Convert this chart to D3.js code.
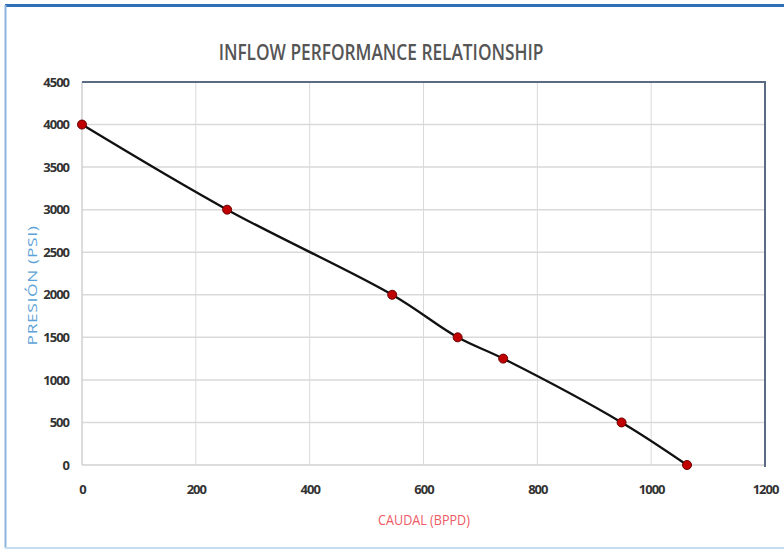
<!DOCTYPE html>
<html>
<head>
<meta charset="utf-8">
<script src="https://cdn.jsdelivr.net/npm/d3@7/dist/d3.min.js"></script>
<style>
  html, body { margin: 0; padding: 0; background: #ffffff; }
  svg { display: block; }
</style>
</head>
<body>
<svg id="chart" width="784" height="554"></svg>
<script>
// Inflow performance relationship: flow rate (BPPD) vs pressure (PSI)
const caudal = [0, 255, 545, 660, 740, 948, 1063];
const presion = [4000, 3000, 2000, 1500, 1250, 500, 0];
const xTicks = [0, 200, 400, 600, 800, 1000, 1200];
const yTicks = [0, 500, 1000, 1500, 2000, 2500, 3000, 3500, 4000, 4500];

const svg = d3.select("#chart");
const W = 784, H = 554;
const plot = { left: 82, right: 765, top: 82, bottom: 465 };
const FONT = "'Open Sans', 'DejaVu Sans', sans-serif";

// Outer chart frame
svg.append("rect").attr("x", 0).attr("y", 0).attr("width", W).attr("height", H).attr("fill", "#ffffff");
svg.append("line").attr("x1", 5).attr("x2", W).attr("y1", 5.5).attr("y2", 5.5)
  .attr("stroke", "#2f6fb8").attr("stroke-width", 3);
svg.append("line").attr("x1", 5.5).attr("x2", 5.5).attr("y1", 5).attr("y2", 548)
  .attr("stroke", "#8db4dc").attr("stroke-width", 2);
svg.append("line").attr("x1", 5).attr("x2", W).attr("y1", 548).attr("y2", 548)
  .attr("stroke", "#c4dcf2").attr("stroke-width", 2);

const x = d3.scaleLinear().domain([0, 1200]).range([plot.left, plot.right]);
const y = d3.scaleLinear().domain([0, 4500]).range([plot.bottom, plot.top]);

// Gridlines
svg.append("g").selectAll("line").data(xTicks.slice(1, -1)).join("line")
  .attr("x1", d => x(d)).attr("x2", d => x(d))
  .attr("y1", plot.top).attr("y2", plot.bottom)
  .attr("stroke", "#d9d9d9").attr("stroke-width", 1);
svg.append("g").selectAll("line").data(yTicks.slice(1, -1)).join("line")
  .attr("x1", plot.left).attr("x2", plot.right)
  .attr("y1", d => y(d)).attr("y2", d => y(d))
  .attr("stroke", "#d9d9d9").attr("stroke-width", 1.5);

// Plot-area border: light on left/bottom, dark on top/right
svg.append("line").attr("x1", plot.left).attr("x2", plot.left).attr("y1", plot.top).attr("y2", plot.bottom)
  .attr("stroke", "#d0d0d0").attr("stroke-width", 1.5);
svg.append("line").attr("x1", plot.left).attr("x2", plot.right).attr("y1", plot.bottom).attr("y2", plot.bottom)
  .attr("stroke", "#d0d0d0").attr("stroke-width", 1.5);
svg.append("line").attr("x1", plot.left).attr("x2", plot.right + 1).attr("y1", plot.top).attr("y2", plot.top)
  .attr("stroke", "#5b6b85").attr("stroke-width", 2);
svg.append("line").attr("x1", plot.right).attr("x2", plot.right).attr("y1", plot.top).attr("y2", plot.bottom + 2)
  .attr("stroke", "#5b6b85").attr("stroke-width", 2);

// Axes (labels only)
const xAxis = svg.append("g").attr("transform", `translate(0,${plot.bottom + 17})`)
  .call(d3.axisBottom(x).tickValues(xTicks).tickSize(0).tickFormat(d3.format("d")));
const yAxis = svg.append("g").attr("transform", `translate(${plot.left - 10},0)`)
  .call(d3.axisLeft(y).tickValues(yTicks).tickSize(0).tickFormat(d3.format("d")));
[xAxis, yAxis].forEach(a => {
  a.select(".domain").remove();
  a.selectAll("text")
    .attr("font-family", FONT)
    .attr("font-size", 13).attr("font-weight", "bold").attr("fill", "#333333")
    .attr("letter-spacing", "-1px");
});

// Horizontally condensed text helper
function condensed(tx, ty, txt, size, targetWidth, fill, weight, spacing) {
  const g = svg.append("g").attr("transform", `translate(${tx},${ty})`);
  const t = g.append("text").attr("text-anchor", "middle")
    .attr("font-family", FONT).attr("font-size", size)
    .attr("font-weight", weight).attr("fill", fill)
    .attr("letter-spacing", spacing)
    .text(txt);
  const w = t.node().getComputedTextLength();
  t.attr("transform", `scale(${targetWidth / w},1)`);
  return g;
}

// Title and axis titles
condensed(381, 60, "INFLOW PERFORMANCE RELATIONSHIP", 22, 325, "#555555", 600, "0px");
condensed(424, 525, "CAUDAL (BPPD)", 14, 92, "#ee5a64", 400, "0px");
const yt = svg.append("g")
  .attr("transform", `translate(37,${(plot.top + plot.bottom) / 2 + 12}) rotate(-90)`);
const ytText = yt.append("text").attr("text-anchor", "middle")
  .attr("font-family", FONT).attr("font-size", 13).attr("fill", "#5aa2d8")
  .attr("letter-spacing", "0.5px")
  .text("PRESIÓN (PSI)");
ytText.attr("transform", `scale(${120 / ytText.node().getComputedTextLength()},1)`);

// IPR curve (smoothed through the measured points)
const pts = caudal.map((c, i) => ({ q: c, p: presion[i] }));
svg.append("path").datum(pts)
  .attr("fill", "none").attr("stroke", "#111111").attr("stroke-width", 2.3)
  .attr("d", d3.line().x(d => x(d.q)).y(d => y(d.p)).curve(d3.curveCatmullRom.alpha(0.5)));

svg.append("g").selectAll("circle").data(pts).join("circle")
  .attr("cx", d => x(d.q)).attr("cy", d => y(d.p)).attr("r", 4.5)
  .attr("fill", "#c00000").attr("stroke", "#6a0000").attr("stroke-width", 1);
</script>
</body>
</html>
